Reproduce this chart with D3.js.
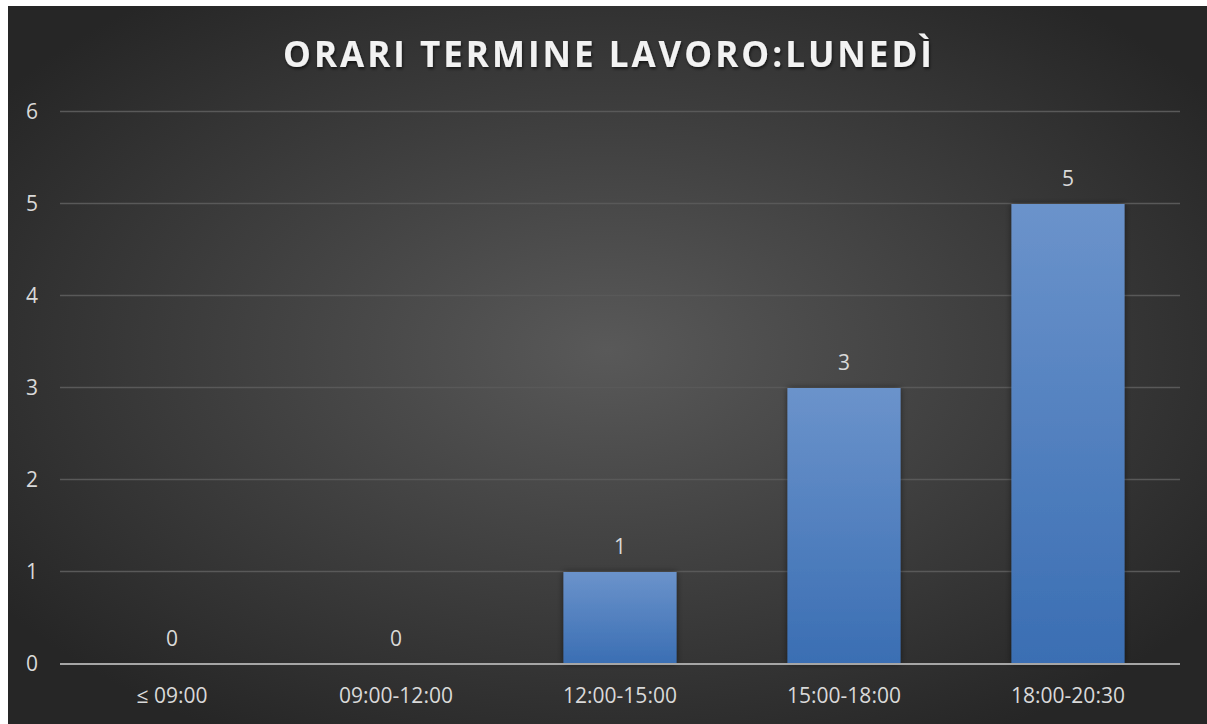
<!DOCTYPE html>
<html>
<head>
<meta charset="utf-8">
<script src="https://cdn.jsdelivr.net/npm/d3@7"></script>
<style>
  html, body { margin: 0; padding: 0; background: #fff; }
  svg { display: block; }
</style>
</head>
<body>
<div id="chart"></div>
<script>
// data
const categories = ['≤ 09:00', '09:00-12:00', '12:00-15:00', '15:00-18:00', '18:00-20:30'];
const values = [0, 0, 1, 3, 5];
const yTicks = [0, 1, 2, 3, 4, 5, 6];
const title = 'ORARI TERMINE LAVORO:LUNEDÌ';

const W = 1207, H = 724;
const margin = { top: 112, right: 27, bottom: 60, left: 60 };
const width = W - margin.left - margin.right;
const height = H - margin.top - margin.bottom;
const font = '"Open Sans", sans-serif';

const root = d3.select('#chart').append('svg')
  .attr('width', W)
  .attr('height', H);

const defs = root.append('defs');

const bg = defs.append('radialGradient')
  .attr('id', 'bg')
  .attr('cx', '50%').attr('cy', '48%').attr('r', '62%');
bg.append('stop').attr('offset', '0%').attr('stop-color', '#595959');
bg.append('stop').attr('offset', '100%').attr('stop-color', '#262626');

const barGrad = defs.append('linearGradient')
  .attr('id', 'barGrad')
  .attr('x1', 0).attr('y1', 0).attr('x2', 0).attr('y2', 1);
barGrad.append('stop').attr('offset', '0%').attr('stop-color', '#6b93cb');
barGrad.append('stop').attr('offset', '100%').attr('stop-color', '#3a6eb3');

const shadow = defs.append('filter').attr('id', 'shadow')
  .attr('x', '-20%').attr('y', '-20%').attr('width', '140%').attr('height', '140%');
shadow.append('feDropShadow')
  .attr('dx', 0).attr('dy', 0).attr('stdDeviation', 3)
  .attr('flood-color', '#000').attr('flood-opacity', 0.5);

const titleShadow = defs.append('filter').attr('id', 'tshadow')
  .attr('x', '-10%').attr('y', '-30%').attr('width', '120%').attr('height', '160%');
titleShadow.append('feDropShadow')
  .attr('dx', 1).attr('dy', 2).attr('stdDeviation', 1.5)
  .attr('flood-color', '#000').attr('flood-opacity', 0.6);

// background panel
root.append('rect')
  .attr('x', 8).attr('y', 6)
  .attr('width', W - 8).attr('height', H - 6)
  .attr('fill', 'url(#bg)');

// title
root.append('text')
  .attr('x', 609)
  .attr('y', 67)
  .attr('text-anchor', 'middle')
  .attr('fill', '#f2f2f2')
  .attr('filter', 'url(#tshadow)')
  .style('font-family', font)
  .style('font-weight', 700)
  .style('font-size', '35px')
  .style('letter-spacing', '3px')
  .text(title);

const svg = root.append('g')
  .attr('transform', `translate(${margin.left},${margin.top})`);

const x = d3.scaleBand()
  .domain(categories)
  .range([0, width])
  .paddingInner(0.495)
  .paddingOuter(0.2475);

const y = d3.scaleLinear()
  .domain([0, 6])
  .range([height, 0]);

// gridlines
svg.append('g')
  .selectAll('line')
  .data(yTicks.filter(d => d > 0))
  .join('line')
  .attr('x1', 0).attr('x2', width)
  .attr('y1', d => Math.round(y(d)) - 0.5)
  .attr('y2', d => Math.round(y(d)) - 0.5)
  .attr('stroke', '#595959')
  .attr('stroke-width', 1.5);

// y axis labels
svg.append('g')
  .selectAll('text')
  .data(yTicks)
  .join('text')
  .attr('x', -28)
  .attr('y', d => y(d))
  .attr('dy', '0.35em')
  .attr('text-anchor', 'middle')
  .attr('fill', '#d9d9d9')
  .style('font-family', font)
  .style('font-size', '21px')
  .text(d => d);

// bars
svg.append('g')
  .selectAll('rect')
  .data(values.map((v, i) => ({ cat: categories[i], v })))
  .join('rect')
  .attr('x', d => x(d.cat))
  .attr('y', d => y(d.v))
  .attr('width', x.bandwidth())
  .attr('height', d => height - y(d.v))
  .attr('fill', 'url(#barGrad)')
  .attr('filter', 'url(#shadow)');

// x axis line
svg.append('line')
  .attr('x1', 0).attr('x2', width)
  .attr('y1', height).attr('y2', height)
  .attr('stroke', '#a6a6a6')
  .attr('stroke-width', 2);

// x labels
svg.append('g')
  .selectAll('text')
  .data(categories)
  .join('text')
  .attr('x', d => x(d) + x.bandwidth() / 2)
  .attr('y', height + 39)
  .attr('text-anchor', 'middle')
  .attr('fill', '#d9d9d9')
  .style('font-family', font)
  .style('font-size', '21px')
  .text(d => d);

// value labels
svg.append('g')
  .selectAll('text')
  .data(values.map((v, i) => ({ cat: categories[i], v })))
  .join('text')
  .attr('x', d => x(d.cat) + x.bandwidth() / 2)
  .attr('y', d => y(d.v) - 18)
  .attr('text-anchor', 'middle')
  .attr('fill', '#d9d9d9')
  .style('font-family', font)
  .style('font-size', '21px')
  .text(d => d.v);
</script>
</body>
</html>
